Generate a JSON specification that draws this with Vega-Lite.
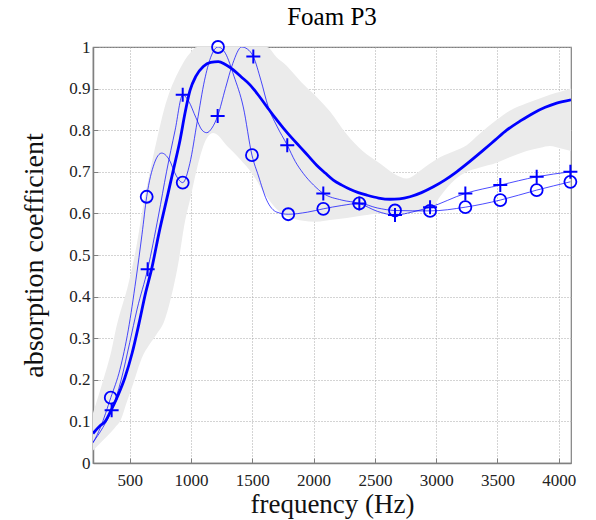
{
  "$schema": "https://vega.github.io/schema/vega-lite/v6.json",
  "width": 478,
  "height": 416,
  "autosize": {"type": "none"},
  "padding": {"left": 93, "top": 47, "right": 25, "bottom": 57},
  "background": "white",
  "title": {"text": "Foam P3", "font": "Liberation Serif", "fontSize": 25, "fontWeight": "normal", "color": "black", "offset": 7, "anchor": "middle", "frame": "group"},
  "config": {
    "view": {"stroke": "#808080", "strokeWidth": 1.2},
    "axis": {
      "labelFont": "Liberation Serif", "labelFontSize": 17, "labelColor": "#222",
      "titleFont": "Liberation Serif", "titleFontWeight": "normal", "titleColor": "#111",
      "domainColor": "#808080", "domainWidth": 1.5,
      "tickColor": "#808080", "tickSize": -5,
      "gridColor": "#a8a8a8", "gridDash": [1, 2], "gridWidth": 1
    }
  },
  "datasets": {
    "band": [
      {"f": 200, "lo": 0.03, "hi": 0.12},
      {"f": 284, "lo": 0.055, "hi": 0.2},
      {"f": 350, "lo": 0.075, "hi": 0.27},
      {"f": 393, "lo": 0.09, "hi": 0.33},
      {"f": 420, "lo": 0.1, "hi": 0.36},
      {"f": 480, "lo": 0.15, "hi": 0.42},
      {"f": 527, "lo": 0.19, "hi": 0.48},
      {"f": 560, "lo": 0.22, "hi": 0.53},
      {"f": 610, "lo": 0.26, "hi": 0.62},
      {"f": 650, "lo": 0.28, "hi": 0.68},
      {"f": 720, "lo": 0.31, "hi": 0.776},
      {"f": 780, "lo": 0.34, "hi": 0.85},
      {"f": 830, "lo": 0.39, "hi": 0.896},
      {"f": 896, "lo": 0.48, "hi": 0.94},
      {"f": 950, "lo": 0.58, "hi": 0.969},
      {"f": 991, "lo": 0.632, "hi": 0.985},
      {"f": 1050, "lo": 0.71, "hi": 1.0},
      {"f": 1127, "lo": 0.78, "hi": 1.0},
      {"f": 1182, "lo": 0.793, "hi": 1.0},
      {"f": 1300, "lo": 0.76, "hi": 1.0},
      {"f": 1400, "lo": 0.73, "hi": 1.0},
      {"f": 1500, "lo": 0.695, "hi": 1.0},
      {"f": 1617, "lo": 0.64, "hi": 1.0},
      {"f": 1700, "lo": 0.61, "hi": 0.975},
      {"f": 1780, "lo": 0.592, "hi": 0.955},
      {"f": 1835, "lo": 0.587, "hi": 0.937},
      {"f": 1900, "lo": 0.583, "hi": 0.915},
      {"f": 2025, "lo": 0.58, "hi": 0.88},
      {"f": 2134, "lo": 0.584, "hi": 0.845},
      {"f": 2270, "lo": 0.589, "hi": 0.79},
      {"f": 2400, "lo": 0.595, "hi": 0.75},
      {"f": 2542, "lo": 0.6, "hi": 0.72},
      {"f": 2660, "lo": 0.6, "hi": 0.695},
      {"f": 2760, "lo": 0.602, "hi": 0.684},
      {"f": 2880, "lo": 0.604, "hi": 0.705},
      {"f": 2950, "lo": 0.606, "hi": 0.72},
      {"f": 3031, "lo": 0.64, "hi": 0.735},
      {"f": 3150, "lo": 0.68, "hi": 0.75},
      {"f": 3249, "lo": 0.7, "hi": 0.764},
      {"f": 3350, "lo": 0.71, "hi": 0.79},
      {"f": 3494, "lo": 0.722, "hi": 0.825},
      {"f": 3600, "lo": 0.735, "hi": 0.847},
      {"f": 3738, "lo": 0.75, "hi": 0.865},
      {"f": 3850, "lo": 0.758, "hi": 0.877},
      {"f": 3928, "lo": 0.762, "hi": 0.885},
      {"f": 4020, "lo": 0.756, "hi": 0.893},
      {"f": 4100, "lo": 0.75, "hi": 0.9}
    ],
    "thick": [
      {"f": 200, "v": 0.071}, {"f": 260, "v": 0.09}, {"f": 300, "v": 0.1}, {"f": 345, "v": 0.125},
      {"f": 400, "v": 0.16}, {"f": 460, "v": 0.205}, {"f": 520, "v": 0.265}, {"f": 575, "v": 0.335},
      {"f": 630, "v": 0.41}, {"f": 678, "v": 0.466}, {"f": 740, "v": 0.555}, {"f": 810, "v": 0.645},
      {"f": 860, "v": 0.71}, {"f": 910, "v": 0.776}, {"f": 950, "v": 0.84}, {"f": 991, "v": 0.895},
      {"f": 1040, "v": 0.93}, {"f": 1100, "v": 0.953}, {"f": 1160, "v": 0.963}, {"f": 1222, "v": 0.965},
      {"f": 1280, "v": 0.958}, {"f": 1345, "v": 0.945}, {"f": 1410, "v": 0.928}, {"f": 1481, "v": 0.909},
      {"f": 1550, "v": 0.884}, {"f": 1617, "v": 0.857}, {"f": 1685, "v": 0.83}, {"f": 1753, "v": 0.805},
      {"f": 1820, "v": 0.782}, {"f": 1889, "v": 0.76}, {"f": 1960, "v": 0.737}, {"f": 2025, "v": 0.716},
      {"f": 2095, "v": 0.697}, {"f": 2161, "v": 0.68}, {"f": 2230, "v": 0.668}, {"f": 2297, "v": 0.658},
      {"f": 2365, "v": 0.65}, {"f": 2433, "v": 0.644}, {"f": 2530, "v": 0.637}, {"f": 2623, "v": 0.634},
      {"f": 2700, "v": 0.635}, {"f": 2786, "v": 0.64}, {"f": 2880, "v": 0.65}, {"f": 2977, "v": 0.664},
      {"f": 3070, "v": 0.68}, {"f": 3167, "v": 0.7}, {"f": 3275, "v": 0.725}, {"f": 3385, "v": 0.752},
      {"f": 3480, "v": 0.776}, {"f": 3575, "v": 0.8}, {"f": 3690, "v": 0.823}, {"f": 3792, "v": 0.841},
      {"f": 3890, "v": 0.855}, {"f": 3983, "v": 0.865}, {"f": 4100, "v": 0.873}
    ],
    "thin": [
      {"s": "o", "f": 200, "v": 0.048}, {"s": "o", "f": 260, "v": 0.085}, {"s": "o", "f": 345, "v": 0.157},
      {"s": "o", "f": 420, "v": 0.225}, {"s": "o", "f": 488, "v": 0.32}, {"s": "o", "f": 550, "v": 0.44},
      {"s": "o", "f": 600, "v": 0.55}, {"s": "o", "f": 638, "v": 0.64}, {"s": "o", "f": 700, "v": 0.72},
      {"s": "o", "f": 760, "v": 0.745}, {"s": "o", "f": 820, "v": 0.73}, {"s": "o", "f": 880, "v": 0.69},
      {"s": "o", "f": 932, "v": 0.674}, {"s": "o", "f": 990, "v": 0.72}, {"s": "o", "f": 1050, "v": 0.82},
      {"s": "o", "f": 1110, "v": 0.92}, {"s": "o", "f": 1160, "v": 0.975}, {"s": "o", "f": 1220, "v": 1.0},
      {"s": "o", "f": 1280, "v": 0.985}, {"s": "o", "f": 1350, "v": 0.93}, {"s": "o", "f": 1426, "v": 0.856},
      {"s": "o", "f": 1497, "v": 0.74}, {"s": "o", "f": 1550, "v": 0.69}, {"s": "o", "f": 1617, "v": 0.632},
      {"s": "o", "f": 1700, "v": 0.603}, {"s": "o", "f": 1793, "v": 0.598}, {"s": "o", "f": 1950, "v": 0.603},
      {"s": "o", "f": 2079, "v": 0.611}, {"s": "o", "f": 2230, "v": 0.619}, {"s": "o", "f": 2373, "v": 0.624},
      {"s": "o", "f": 2520, "v": 0.613}, {"s": "o", "f": 2664, "v": 0.607}, {"s": "o", "f": 2950, "v": 0.606},
      {"s": "o", "f": 3238, "v": 0.615}, {"s": "o", "f": 3523, "v": 0.632}, {"s": "o", "f": 3820, "v": 0.656},
      {"s": "o", "f": 4095, "v": 0.676},
      {"s": "p", "f": 200, "v": 0.05}, {"s": "p", "f": 280, "v": 0.085}, {"s": "p", "f": 352, "v": 0.127},
      {"s": "p", "f": 430, "v": 0.2}, {"s": "p", "f": 500, "v": 0.29}, {"s": "p", "f": 560, "v": 0.37},
      {"s": "p", "f": 646, "v": 0.466}, {"s": "p", "f": 735, "v": 0.596}, {"s": "p", "f": 800, "v": 0.7},
      {"s": "p", "f": 870, "v": 0.8}, {"s": "p", "f": 932, "v": 0.885}, {"s": "p", "f": 980, "v": 0.87},
      {"s": "p", "f": 1040, "v": 0.83}, {"s": "p", "f": 1090, "v": 0.8}, {"s": "p", "f": 1128, "v": 0.794},
      {"s": "p", "f": 1170, "v": 0.805}, {"s": "p", "f": 1217, "v": 0.834}, {"s": "p", "f": 1280, "v": 0.9},
      {"s": "p", "f": 1340, "v": 0.96}, {"s": "p", "f": 1413, "v": 1.0}, {"s": "p", "f": 1460, "v": 0.995},
      {"s": "p", "f": 1508, "v": 0.977}, {"s": "p", "f": 1570, "v": 0.92}, {"s": "p", "f": 1630, "v": 0.856},
      {"s": "p", "f": 1700, "v": 0.81}, {"s": "p", "f": 1785, "v": 0.764}, {"s": "p", "f": 1850, "v": 0.725},
      {"s": "p", "f": 1916, "v": 0.696}, {"s": "p", "f": 2000, "v": 0.668}, {"s": "p", "f": 2079, "v": 0.648},
      {"s": "p", "f": 2230, "v": 0.632}, {"s": "p", "f": 2373, "v": 0.624}, {"s": "p", "f": 2520, "v": 0.605},
      {"s": "p", "f": 2664, "v": 0.596}, {"s": "p", "f": 2800, "v": 0.603}, {"s": "p", "f": 2950, "v": 0.615},
      {"s": "p", "f": 3238, "v": 0.648}, {"s": "p", "f": 3523, "v": 0.668}, {"s": "p", "f": 3820, "v": 0.688},
      {"s": "p", "f": 4095, "v": 0.7}
    ],
    "markers": [
      {"s": "o", "f": 345, "v": 0.157}, {"s": "o", "f": 638, "v": 0.64}, {"s": "o", "f": 932, "v": 0.674},
      {"s": "o", "f": 1220, "v": 1.0}, {"s": "o", "f": 1497, "v": 0.74}, {"s": "o", "f": 1793, "v": 0.598},
      {"s": "o", "f": 2079, "v": 0.611}, {"s": "o", "f": 2373, "v": 0.624}, {"s": "o", "f": 2664, "v": 0.607},
      {"s": "o", "f": 2950, "v": 0.606}, {"s": "o", "f": 3238, "v": 0.615}, {"s": "o", "f": 3523, "v": 0.632},
      {"s": "o", "f": 3820, "v": 0.656}, {"s": "o", "f": 4095, "v": 0.676},
      {"s": "p", "f": 352, "v": 0.127}, {"s": "p", "f": 646, "v": 0.466}, {"s": "p", "f": 932, "v": 0.885},
      {"s": "p", "f": 1217, "v": 0.834}, {"s": "p", "f": 1508, "v": 0.977}, {"s": "p", "f": 1785, "v": 0.764},
      {"s": "p", "f": 2079, "v": 0.648}, {"s": "p", "f": 2373, "v": 0.624}, {"s": "p", "f": 2664, "v": 0.596},
      {"s": "p", "f": 2950, "v": 0.615}, {"s": "p", "f": 3238, "v": 0.648}, {"s": "p", "f": 3523, "v": 0.668},
      {"s": "p", "f": 3820, "v": 0.688}, {"s": "p", "f": 4095, "v": 0.7}
    ]
  },
  "encoding": {
    "x": {"field": "f", "type": "quantitative",
      "scale": {"domain": [200, 4100], "nice": false, "zero": false},
      "axis": {"title": "frequency (Hz)", "titleFontSize": 27, "labelFont": "Liberation Serif", "titleFont": "Liberation Serif", "values": [500, 1000, 1500, 2000, 2500, 3000, 3500, 4000], "format": "d", "labelPadding": 14, "titlePadding": 3, "grid": true}},
    "y": {"field": "v", "type": "quantitative",
      "scale": {"domain": [0, 1], "nice": false},
      "axis": {"title": "absorption coefficient", "titleFontSize": 28, "labelFont": "Liberation Serif", "titleFont": "Liberation Serif", "values": [0, 0.1, 0.2, 0.3, 0.4, 0.5, 0.6, 0.7, 0.8, 0.9, 1], "format": "~g", "labelPadding": 8, "titlePadding": 20, "grid": true}}
  },
  "layer": [
    {"data": {"name": "band"}, "mark": {"type": "area", "color": "#ebebeb", "clip": true, "interpolate": "monotone"},
      "encoding": {"x": {"field": "f", "type": "quantitative"}, "y": {"field": "lo", "type": "quantitative"}, "y2": {"field": "hi"}}},
    {"data": {"name": "thick"}, "mark": {"type": "line", "color": "#0000ff", "strokeWidth": 2.8, "interpolate": "monotone", "clip": true},
      "encoding": {}},
    {"data": {"name": "thin"}, "mark": {"type": "line", "color": "#0000ff", "strokeWidth": 1, "opacity": 0.7, "interpolate": "monotone", "clip": true},
      "encoding": {"detail": {"field": "s"}}},
    {"data": {"name": "markers"}, "transform": [{"filter": "datum.s === 'o'"}],
      "mark": {"type": "point", "shape": "circle", "filled": false, "color": "#0000ff", "size": 144, "strokeWidth": 1.8, "opacity": 1},
      "encoding": {}},
    {"data": {"name": "markers"}, "transform": [{"filter": "datum.s === 'p'"}],
      "mark": {"type": "point", "shape": "M-1,0L1,0M0,-1L0,1", "filled": false, "color": "#0000ff", "size": 196, "strokeWidth": 2, "opacity": 1},
      "encoding": {}}
  ]
}
